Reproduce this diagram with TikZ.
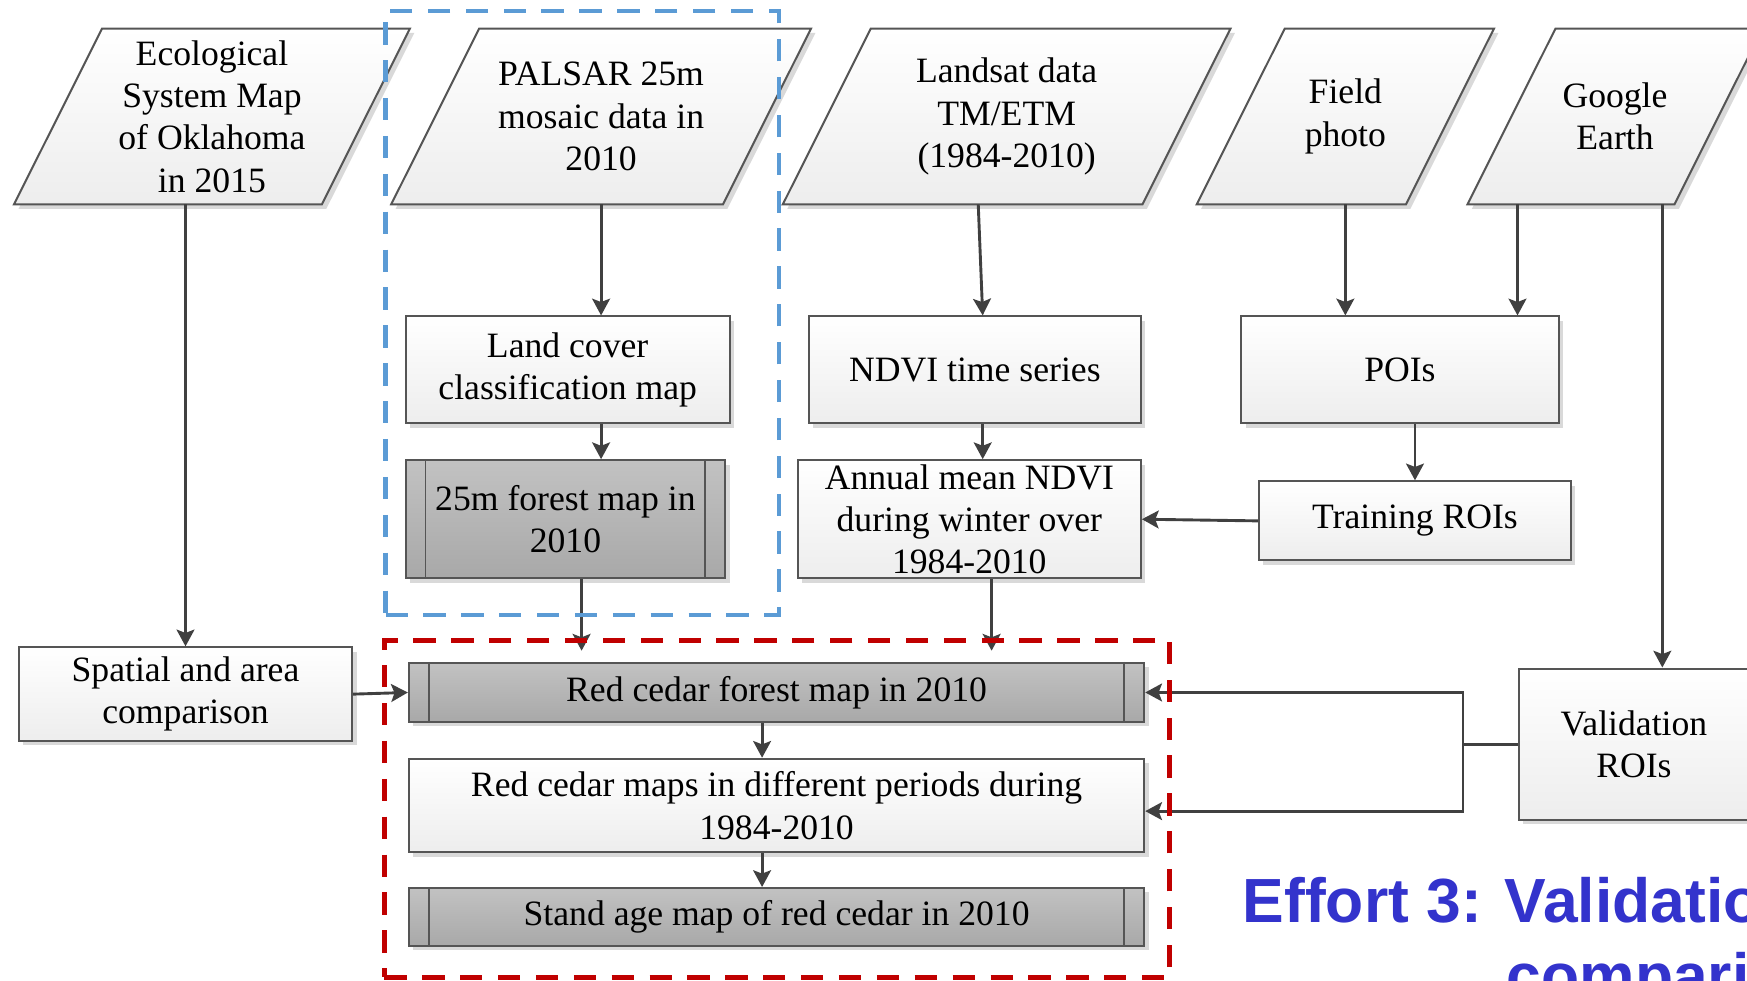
\documentclass[tikz,border=0pt]{standalone}
\usepackage{fontspec}
\setmainfont{Liberation Serif}
\newfontfamily\effortfont{Liberation Sans}
\usetikzlibrary{calc,shadows,arrows.meta}
\pgfdeclarelayer{bg}
\pgfsetlayers{bg,main}
\definecolor{lineclr}{HTML}{404040}
\definecolor{bordclr}{HTML}{555555}
\definecolor{blueclr}{HTML}{5B9BD5}
\definecolor{redclr}{HTML}{C00000}
\definecolor{effclr}{HTML}{3333CC}
\definecolor{shadowclr}{HTML}{D9D9D9}
\tikzset{
 area/.style args={#1,#2,#3,#4}{rectangle, at={({(#1+#3)/2},{(#2+#4)/2})},
   minimum width={(#3-#1)*0.5pt}, minimum height={(#4-#2)*0.5pt}},
 txt/.style={font=\fontsize{16}{19}\selectfont, align=center, inner sep=0pt, text=black},
 lightbox/.style={txt, draw=bordclr, line width=0.9pt, top color=white, bottom color=black!7,
   drop shadow={shadow xshift=2pt, shadow yshift=-2pt, fill=shadowclr, opacity=1}},
 darkbox/.style={lightbox, top color=black!24, bottom color=black!34},
 paratext/.style={txt},
 parashape/.style={draw=bordclr, line width=0.9pt, top color=white, bottom color=black!7},
 arr/.style={draw=lineclr, line width=1.3pt, -{Stealth[length=7.5pt,width=8pt,inset=1.5pt]}},
 link/.style={draw=lineclr, line width=1.3pt},
 grpblue/.style={draw=blueclr, line width=2pt, dash pattern=on 10pt off 7pt, inner sep=0pt},
 grpred/.style={draw=redclr, line width=2.2pt, dash pattern=on 10pt off 7pt, inner sep=0pt},
 innerline/.style={draw=bordclr, line width=0.6pt},
 efftext/.style={font=\effortfont\bfseries\fontsize{28}{32}\selectfont, text=effclr, inner sep=0pt, anchor=base west}
}
\newcommand\drawpara[1]{%
 \fill[shadowclr] ($(#1.north west)+(43.5,4)$) -- ($(#1.north east)+(43.5,4)$) -- ($(#1.south east)+(-35.5,4)$) -- ($(#1.south west)+(-35.5,4)$) -- cycle;
 \path[parashape] ($(#1.north west)+(39.5,0)$) -- ($(#1.north east)+(39.5,0)$) -- ($(#1.south east)+(-39.5,0)$) -- ($(#1.south west)+(-39.5,0)$) -- cycle;}
\begin{document}
\begin{tikzpicture}[x=0.5pt,y=-0.5pt]
\useasboundingbox (0,0) rectangle (1568,880);
\clip (0,0) rectangle (1568,880);
% input parallelograms (text holders)
\node[paratext, area={52.5,26,328,183}] (eco) {Ecological\\System Map\\of Oklahoma\\in 2015};
\node[paratext, area={391,26,688,183}] (palsar) {PALSAR 25m\\mosaic data in\\2010};
\node[paratext, area={742.5,26,1064.5,183}] (landsat) {Landsat data\\TM/ETM\\(1984-2010)};
\node[paratext, area={1114,26,1301,183}] (field) {Field\\photo};
\node[paratext, area={1357,26,1542,183}] (google) {Google\\Earth};
% boxes
\node[lightbox, area={364,284,655,380}] (landcover) {Land cover\\classification map};
\node[darkbox, area={364,413,651,519}] (forest25) {25m forest map in\\2010};
\node[lightbox, area={726,284,1024,380}] (ndvi) {NDVI time series};
\node[lightbox, area={716,413,1024,519}] (annual) {Annual mean NDVI\\during winter over\\1984-2010};
\node[lightbox, area={1114,284,1399,380}] (pois) {POIs};
\node[lightbox, area={1130,432,1410,503}] (training) {Training ROIs};
\node[lightbox, area={17,581,316,665}] (spatial) {Spatial and area\\comparison};
\node[darkbox, area={367,595,1027,648}] (rcf) {Red cedar forest map in 2010};
\node[lightbox, area={367,681,1027,765}] (rcm) {Red cedar maps in different periods during\\1984-2010};
\node[darkbox, area={367,797,1027,849}] (stand) {Stand age map of red cedar in 2010};
\node[lightbox, area={1363,600,1570,736}] (valid) {Validation\\ROIs};
% inner lines of the dark boxes
\foreach \nm/\off in {forest25/19, rcf/19, stand/19} {
  \draw[innerline] ($(\nm.north west)+(\off,0)$) -- ($(\nm.south west)+(\off,0)$);
  \draw[innerline] ($(\nm.north east)+(-\off,0)$) -- ($(\nm.south east)+(-\off,0)$);
}
% coordinates
\coordinate (in1) at (522,584);
\coordinate (in2) at (890,584);
\coordinate (l1) at ($(landsat.south)+(-25.5,0)$);
\coordinate (n1) at ($(ndvi.south)+(7,0)$);
\coordinate (g1) at ($(google.south)+(-87.5,0)$);
\coordinate (g2) at ($(google.south)+(42.5,0)$);
\coordinate (vj) at ($(valid.west)+(-49,0)$);
\coordinate (c1) at ($(rcf.south)+(-13,0)$);
% connectors
\draw[arr] (spatial.north |- eco.south) -- (spatial.north);
\draw[arr] (palsar.south) -- (palsar.south |- landcover.north);
\draw[arr] (palsar.south |- landcover.south) -- (palsar.south |- forest25.north);
\draw[arr] (in1 |- forest25.south) -- (in1);
\draw[arr] (l1) -- ($(ndvi.north)+(7,0)$);
\draw[arr] (n1) -- (n1 |- annual.north);
\draw[arr] (in2 |- annual.south) -- (in2);
\draw[arr] (field.south) -- (field.south |- pois.north);
\draw[arr] (g1) -- (g1 |- pois.north);
\draw[arr] (training.north |- pois.south) -- (training.north);
\draw[arr] (training.west) -- (annual.east);
\draw[arr] (g2) -- (g2 |- valid.north);
\draw[link] (valid.west) -- (vj);
\draw[arr] (vj) |- (rcf.east);
\draw[arr] (vj) |- ($(rcm.east)+(0,5)$);
\draw[arr] (spatial.east) -- (rcf.west);
\draw[arr] (c1) -- (c1 |- rcm.north);
\draw[arr] (c1 |- rcm.south) -- (c1 |- stand.north);
% group boxes
\node[grpblue, area={346,10,699,552}] (bluegrp) {};
\node[grpred, area={345,575,1050,877}] (redgrp) {};
% title text
\node[efftext] (eff1) at (1115,828) {Effort 3: Validation};
\node[efftext] (eff2) at (1352,895) {comparison};
% parallelogram shapes behind text
\begin{pgfonlayer}{bg}
\clip (0,0) rectangle (1568,880);
\drawpara{eco}
\drawpara{palsar}
\drawpara{landsat}
\drawpara{field}
\drawpara{google}
\end{pgfonlayer}
\end{tikzpicture}
\end{document}
